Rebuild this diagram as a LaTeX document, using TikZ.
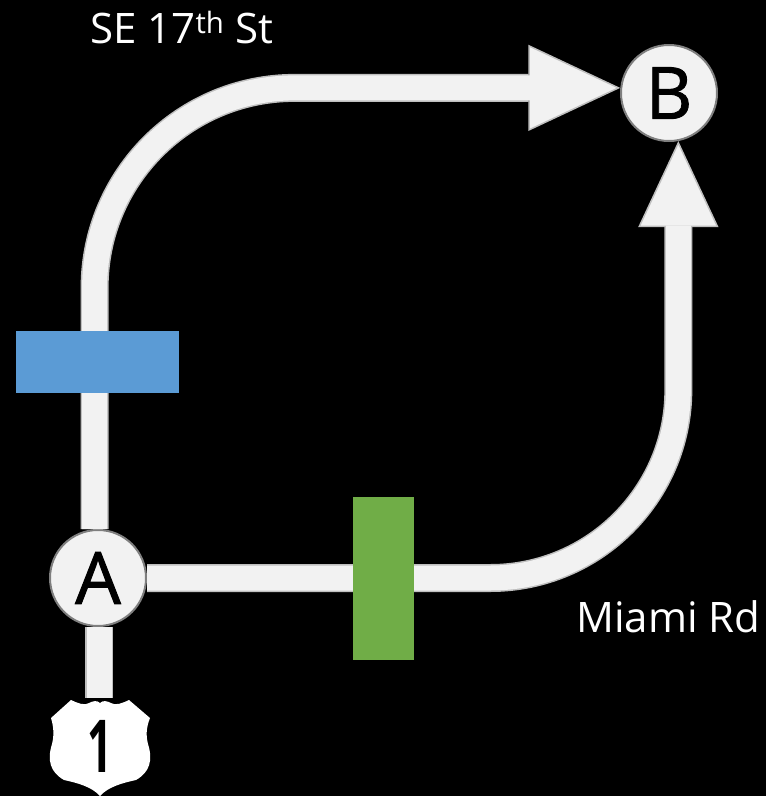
\documentclass[tikz,border=0pt]{standalone}
\usepackage{fontspec}
\setmainfont{Open Sans}
\newfontfamily\placefont[FakeBold=1.3]{Open Sans}
\usetikzlibrary{arrows.meta,positioning,shapes,calc}
\definecolor{roadfill}{HTML}{f2f2f2}
\definecolor{roadedge}{HTML}{bfbfbf}
\definecolor{placeedge}{HTML}{7f7f7f}
\definecolor{barblue}{HTML}{5b9bd5}
\definecolor{bargreen}{HTML}{70ad47}
\tikzset{
  roadplain/.style={line width=25pt, color=roadfill,
    preaction={draw=roadedge, line width=28pt}},
  roadarrow/.style 2 args={line width=25pt, color=roadfill, shorten >=#1pt-1.5pt,
    preaction={draw=roadedge, line width=28pt, shorten >=0pt,
      -{Triangle[length=#1pt,width=#2pt,line width=1.5pt,color=roadedge,fill=roadfill]}}},
  place/.style={circle, draw=placeedge, fill=roadfill, line width=2pt,
    minimum size=96pt, inner sep=0pt, font=\placefont\fontsize{72}{72}\selectfont},
  roadname/.style={white, font=\fontsize{42}{50}\selectfont, anchor=base west, inner sep=0pt},
  closure/.style={inner sep=0pt}
}
\begin{document}
\begin{tikzpicture}[x=1pt,y=-1pt]
    \useasboundingbox[fill=black] (0,0) rectangle (766,796);
    % places
    \node[place] (A) at (98,578) {A};
    \node[place] (B) at (669,93) {B};
    \coordinate (shieldtop) at (99,698);
    % roads
    \draw[roadplain] (A.south -| shieldtop) -- (shieldtop);
    \draw[roadarrow={92}{86}, rounded corners=200pt] (A.94) |- (B.174);
    \draw[roadarrow={86}{80}, rounded corners=188pt] (A.0) -| (B.-79);
    % closures
    \node[closure, fill=barblue, minimum width=163pt, minimum height=62pt] (bluebar) at (97.5,362) {};
    \node[closure, fill=bargreen, minimum width=61pt, minimum height=163pt] (greenbar) at (383.5,578.5) {};
    % US 1 shield
    \fill[white] (71,700) .. controls (77,703) and (85,706) .. (89,703)
      .. controls (93,701) and (97,700) .. (100,703)
      .. controls (103,700) and (107,701) .. (111,703)
      .. controls (115,706) and (123,703) .. (129,700)
      -- (150,718) .. controls (146,728) and (146,736) .. (148,744)
      .. controls (153,760) and (150,772) .. (136,780)
      .. controls (122,783) and (108,787) .. (100,796)
      .. controls (92,787) and (78,783) .. (64,780)
      .. controls (50,772) and (47,760) .. (52,744)
      .. controls (54,736) and (54,728) .. (51,718) -- cycle;
    \node[inner sep=0pt, xscale=.6, transform shape, font=\bfseries\fontsize{73}{73}\selectfont] (shield) at (100,746) {1};
    % labels
    \node[roadname] (street) at (90,43) {SE 17\textsuperscript{th} St};
    \node[roadname] (miami) at (576,632) {Miami Rd};
\end{tikzpicture}
\end{document}
